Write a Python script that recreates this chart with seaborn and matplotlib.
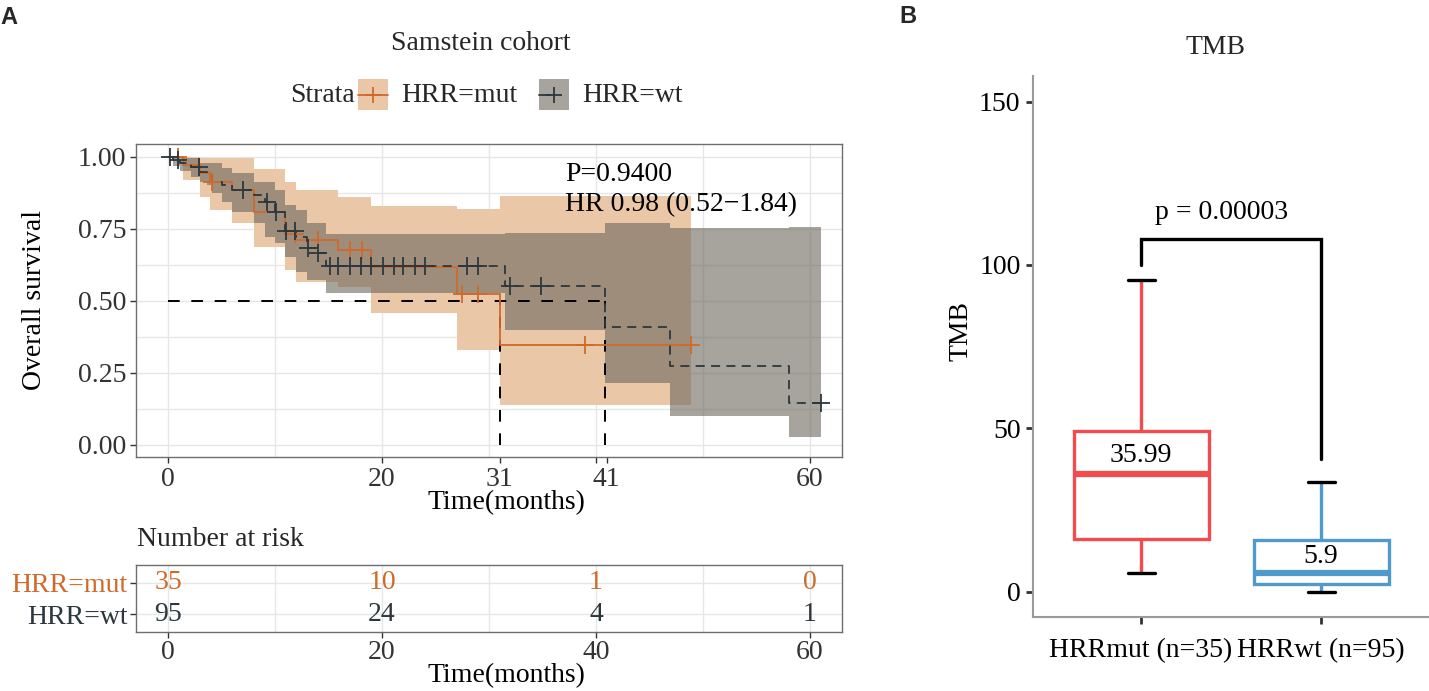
import numpy as np
import pandas as pd
import matplotlib
matplotlib.use("Agg")
import matplotlib.pyplot as plt
import seaborn as sns
from matplotlib.patches import Rectangle
from matplotlib.lines import Line2D

# ---------------- data ----------------
# Kaplan-Meier, HRR=mut
mut_time = [0, 1.4, 3.0, 3.9, 6.0, 8.0, 10.9, 12.0, 15.9, 19.0, 27.0, 31.0]
mut_surv = [1.0, 0.971, 0.943, 0.914, 0.885, 0.81, 0.733, 0.712, 0.677, 0.619, 0.524, 0.347]
mut_upper = [1.0, 1.0, 0.995, 0.995, 0.995, 0.958, 0.914, 0.885, 0.862, 0.831, 0.818, 0.865]
mut_lower = [1.0, 0.92, 0.862, 0.816, 0.772, 0.686, 0.608, 0.567, 0.55, 0.459, 0.33, 0.139]
mut_end = 48.9
mut_censor = [0.9, 4.1, 11.9, 14.0, 17.0, 18.1, 27.5, 29.0, 39.0, 48.9]

# Kaplan-Meier, HRR=wt
wt_time = [0, 0.5, 1.1, 2.1, 3.0, 3.6, 4.1, 5.0, 6.0, 8.0, 9.1, 10.0, 10.9, 12.0,
           13.0, 13.9, 14.8, 31.5, 40.8, 46.9, 58.0]
wt_surv = [1.0, 0.99, 0.979, 0.966, 0.949, 0.937, 0.914, 0.903, 0.885, 0.868, 0.845,
           0.81, 0.743, 0.723, 0.684, 0.666, 0.622, 0.553, 0.41, 0.274, 0.146]
wt_upper = [1.0, 1.0, 0.995, 0.995, 0.978, 0.978, 0.978, 0.961, 0.943, 0.914, 0.914,
            0.885, 0.833, 0.816, 0.77, 0.77, 0.732, 0.736, 0.772, 0.753, 0.758]
wt_lower = [1.0, 0.97, 0.95, 0.93, 0.914, 0.903, 0.874, 0.845, 0.81, 0.77, 0.723,
            0.70, 0.654, 0.602, 0.573, 0.573, 0.527, 0.40, 0.214, 0.10, 0.029]
wt_end = 61.0
wt_censor = [0.2, 0.9, 2.9, 7.0, 9.2, 10.1, 11.0, 11.9, 13.1, 14.0, 15.1, 15.9, 17.0,
             18.0, 19.0, 20.1, 21.1, 22.0, 23.1, 24.0, 27.9, 29.0, 32.0, 34.9, 61.0]

median_times = [31.0, 40.8]
median_level = 0.5

km_xticks = [0, 20, 31, 40, 41, 60]
km_xticklabels = ["0", "20", "31", "", "41", "60"]
km_yticks = [0.0, 0.25, 0.5, 0.75, 1.0]
km_yticklabels = ["0.00", "0.25", "0.50", "0.75", "1.00"]

pval_text = "P=0.9400"
hr_text = "HR 0.98 (0.52\u22121.84)"

risk_times = [0, 20, 40, 60]
risk_mut = [35, 10, 1, 0]
risk_wt = [95, 24, 4, 1]
strata = ["HRR=mut", "HRR=wt"]

# TMB boxplot summary statistics
box_groups = ["HRRmut (n=35)", "HRRwt (n=95)"]
box_q1 = [16.3, 2.4]
box_med = [35.99, 5.9]
box_q3 = [49.1, 15.9]
box_whislo = [5.8, 0.0]
box_whishi = [95.5, 33.6]
box_med_labels = ["35.99", "5.9"]
bracket_y = 107.8
bracket_legs = [100.0, 40.8]
p_text = "p = 0.00003"
box_yticks = [0, 50, 100, 150]

# ---------------- style ----------------
sns.set_theme(style="white")
plt.rcParams["font.family"] = ["Liberation Serif", "DejaVu Serif"]
plt.rcParams["axes.unicode_minus"] = True

MUT_LINE = "#CF6A2B"
WT_LINE = "#2B373D"
MUT_FILL = "#EAC8A7"
WT_FILL = "#6C665C"
WT_ALPHA = 0.6
WT_KEY = "#A7A39D"
GRID = "#E6E6E6"
FRAME = "#6E6E6E"
TXT = "#333333"
FS = 20
RED = "#F24C4F"
BLUE = "#4E9BCB"

W, H = 1429, 691
fig = plt.figure(figsize=(W / 100, H / 100), dpi=100)


def px_rect(l, t, r, b):
    return [l / W, 1 - b / H, (r - l) / W, (b - t) / H]


# ---------------- KM panel ----------------
ax = fig.add_axes(px_rect(136, 144, 842, 457))
ax.set_xlim(-3.0, 63.0)
ax.set_ylim(-0.042, 1.045)
for gx in range(0, 61, 10):
    ax.axvline(gx, color=GRID, lw=1, zorder=0)
for gy in np.arange(0, 1.001, 0.125):
    ax.axhline(gy, color=GRID, lw=1, zorder=0)


def ext(t, v, end):
    return np.append(np.asarray(t, float), end), np.append(np.asarray(v, float), v[-1])


tm, lo_m = ext(mut_time, mut_lower, mut_end)
_, up_m = ext(mut_time, mut_upper, mut_end)
ax.fill_between(tm, lo_m, up_m, step="post", color=MUT_FILL, lw=0, zorder=1)
tw, lo_w = ext(wt_time, wt_lower, wt_end)
_, up_w = ext(wt_time, wt_upper, wt_end)
ax.fill_between(tw, lo_w, up_w, step="post", color=WT_FILL, alpha=WT_ALPHA, lw=0, zorder=2)

# median lines
ax.plot([0, max(median_times)], [median_level, median_level], color="black",
        lw=1.4, dashes=(6, 6), zorder=3)
for mt in median_times:
    ax.plot([mt, mt], [0, median_level], color="black", lw=1.4, dashes=(6, 6), zorder=3)

# curves
_, sm = ext(mut_time, mut_surv, mut_end)
km_mut = pd.DataFrame({"time": tm, "surv": sm})
sns.lineplot(data=km_mut, x="time", y="surv", drawstyle="steps-post", color=MUT_LINE,
             lw=1.3, estimator=None, sort=False, ax=ax, zorder=4)
_, sw = ext(wt_time, wt_surv, wt_end)
km_wt = pd.DataFrame({"time": tw, "surv": sw})
sns.lineplot(data=km_wt, x="time", y="surv", drawstyle="steps-post", color=WT_LINE,
             lw=1.3, estimator=None, sort=False, ax=ax, zorder=5)
ax.lines[-1].set_dashes((5, 3.5))


def surv_at(times, surv, c):
    idx = np.searchsorted(np.asarray(times), c, side="right") - 1
    return np.asarray(surv)[idx]


cm = pd.DataFrame({"time": mut_censor, "surv": surv_at(mut_time, mut_surv, mut_censor)})
cw = pd.DataFrame({"time": wt_censor, "surv": surv_at(wt_time, wt_surv, wt_censor)})
sns.scatterplot(data=cm, x="time", y="surv", marker="+", s=170, color=MUT_LINE,
                linewidth=1.3, ax=ax, zorder=6)
sns.scatterplot(data=cw, x="time", y="surv", marker="+", s=170, color=WT_LINE,
                linewidth=1.3, ax=ax, zorder=7)

ax.text(37.1, 0.9375, pval_text, fontsize=FS, ha="left", va="center", color="black", zorder=8)
ax.text(37.1, 0.833, hr_text, fontsize=FS, ha="left", va="center", color="black", zorder=8)

ax.set_xticks(km_xticks)
ax.set_xticklabels(km_xticklabels)
for tk, lab in zip(ax.xaxis.get_major_ticks(), km_xticks):
    if lab in (31, 41):
        tk.tick1line.set_visible(False)
ax.set_yticks(km_yticks)
ax.set_yticklabels(km_yticklabels)
ax.tick_params(axis="both", which="major", direction="out", length=4, width=1,
               color=TXT, labelsize=FS, labelcolor=TXT, pad=3, bottom=True, left=True)
for s in ax.spines.values():
    s.set_color(FRAME)
    s.set_linewidth(1.0)
ax.set_xlabel("Time(months)", fontsize=FS, color="black")
ax.xaxis.set_label_coords(0.524, -0.105)
ax.set_ylabel("Overall survival", fontsize=FS, color="black")
ax.yaxis.set_label_coords(-0.126, 0.5)

# ---------------- risk table ----------------
rx = fig.add_axes(px_rect(136, 565, 842, 632))
rx.set_xlim(-3.0, 63.0)
rx.set_ylim(-0.58, 1.58)
for gx in range(0, 61, 10):
    rx.axvline(gx, color=GRID, lw=1, zorder=0)
for gy in (0, 1):
    rx.axhline(gy, color=GRID, lw=1, zorder=0)
for t, nm, nw in zip(risk_times, risk_mut, risk_wt):
    rx.text(t, 1, str(nm), color=MUT_LINE, fontsize=FS, ha="center", va="center")
    rx.text(t, 0, str(nw), color=WT_LINE, fontsize=FS, ha="center", va="center")
rx.set_xticks(risk_times)
rx.set_xticklabels([str(t) for t in risk_times])
rx.set_yticks([1, 0])
rx.set_yticklabels(strata)
for lab, col in zip(rx.get_yticklabels(), [MUT_LINE, WT_LINE]):
    lab.set_color(col)
rx.tick_params(axis="both", direction="out", length=4, width=1, color=TXT,
               labelsize=FS, pad=2, bottom=True, left=True)
for lab in rx.get_xticklabels():
    lab.set_color(TXT)
for s in rx.spines.values():
    s.set_color(FRAME)
    s.set_linewidth(1.0)
rx.set_xlabel("Time(months)", fontsize=FS, color="black")
rx.xaxis.set_label_coords(0.524, -0.47)
rx.set_ylabel("")

# ---------------- boxplot ----------------
bx = fig.add_axes(px_rect(1033, 76, 1429, 617))
stats = []
for i in range(len(box_groups)):
    stats.append({"label": box_groups[i], "q1": box_q1[i], "med": box_med[i],
                  "q3": box_q3[i], "whislo": box_whislo[i], "whishi": box_whishi[i],
                  "fliers": []})
colors = [RED, BLUE]
for i, st in enumerate(stats):
    bx.bxp([st], positions=[i], widths=0.75, showfliers=False, patch_artist=True,
           capwidths=0.15,
           boxprops=dict(facecolor="white", edgecolor=colors[i], linewidth=2.4),
           medianprops=dict(color=colors[i], linewidth=4.5, solid_capstyle="butt"),
           whiskerprops=dict(color=colors[i], linewidth=2.4),
           capprops=dict(color="black", linewidth=2.4))
for i, lab in enumerate(box_med_labels):
    off = [5.6, 4.8][i]
    bx.text(i, box_med[i] + off, lab, fontsize=FS, ha="center", va="center", color="black")
bx.plot([0, 0, 1, 1], [bracket_legs[0], bracket_y, bracket_y, bracket_legs[1]],
        color="black", lw=2.4, solid_joinstyle="miter")
bx.text(0.45, 116, p_text, fontsize=FS, ha="center", va="center", color="black")
bx.set_xlim(-0.6, 1.6)
bx.set_ylim(-7.65, 157.8)
bx.set_xticks([0, 1])
bx.set_xticklabels(box_groups)
bx.set_yticks(box_yticks)
bx.set_yticklabels([str(v) for v in box_yticks])
bx.tick_params(axis="y", direction="out", length=5, width=2, color=TXT,
               labelsize=FS, labelcolor="black", pad=4, left=True)
bx.tick_params(axis="x", direction="out", length=5, width=2, color=TXT,
               labelsize=FS, labelcolor="black", pad=10, bottom=True)
for side in ("top", "right"):
    bx.spines[side].set_visible(False)
for side in ("left", "bottom"):
    bx.spines[side].set_color("#9A9A9A")
    bx.spines[side].set_linewidth(1.5)
bx.set_ylabel("TMB", fontsize=FS, color="black")
bx.yaxis.set_label_coords(-0.149, 0.529)

# ---------------- overlay texts / legend ----------------
ov = fig.add_axes([0, 0, 1, 1])
ov.set_xlim(0, W)
ov.set_ylim(H, 0)
ov.axis("off")
ov.patch.set_visible(False)
ov.text(0, 17, "A", fontsize=17, fontweight="bold", family=["Liberation Sans", "DejaVu Sans"],
        ha="left", va="center")
ov.text(899, 16, "B", fontsize=17, fontweight="bold", family=["Liberation Sans", "DejaVu Sans"],
        ha="left", va="center")
ov.text(481, 43, "Samstein cohort", fontsize=FS, ha="center", va="center")
ov.text(1216, 47, "TMB", fontsize=FS, ha="center", va="center")
ov.text(137, 540, "Number at risk", fontsize=FS, ha="left", va="center")

ov.text(355, 95, "Strata", fontsize=FS, ha="right", va="center")
ov.add_patch(Rectangle((358, 79), 30, 31, facecolor=MUT_FILL, edgecolor="none"))
ov.add_line(Line2D([358, 388], [95, 95], color=MUT_LINE, lw=1.3))
ov.plot([373], [95], marker="+", ms=12, mew=1.3, color=MUT_LINE)
ov.text(401, 95, "HRR=mut", fontsize=FS, ha="left", va="center")
ov.add_patch(Rectangle((539, 79), 30, 31, facecolor=WT_KEY, edgecolor="none"))
ov.add_line(Line2D([539, 550], [95, 95], color=WT_LINE, lw=1.3))
ov.plot([554], [95], marker="+", ms=12, mew=1.3, color=WT_LINE)
ov.text(582, 95, "HRR=wt", fontsize=FS, ha="left", va="center")

fig.savefig("out.png", dpi=100)
